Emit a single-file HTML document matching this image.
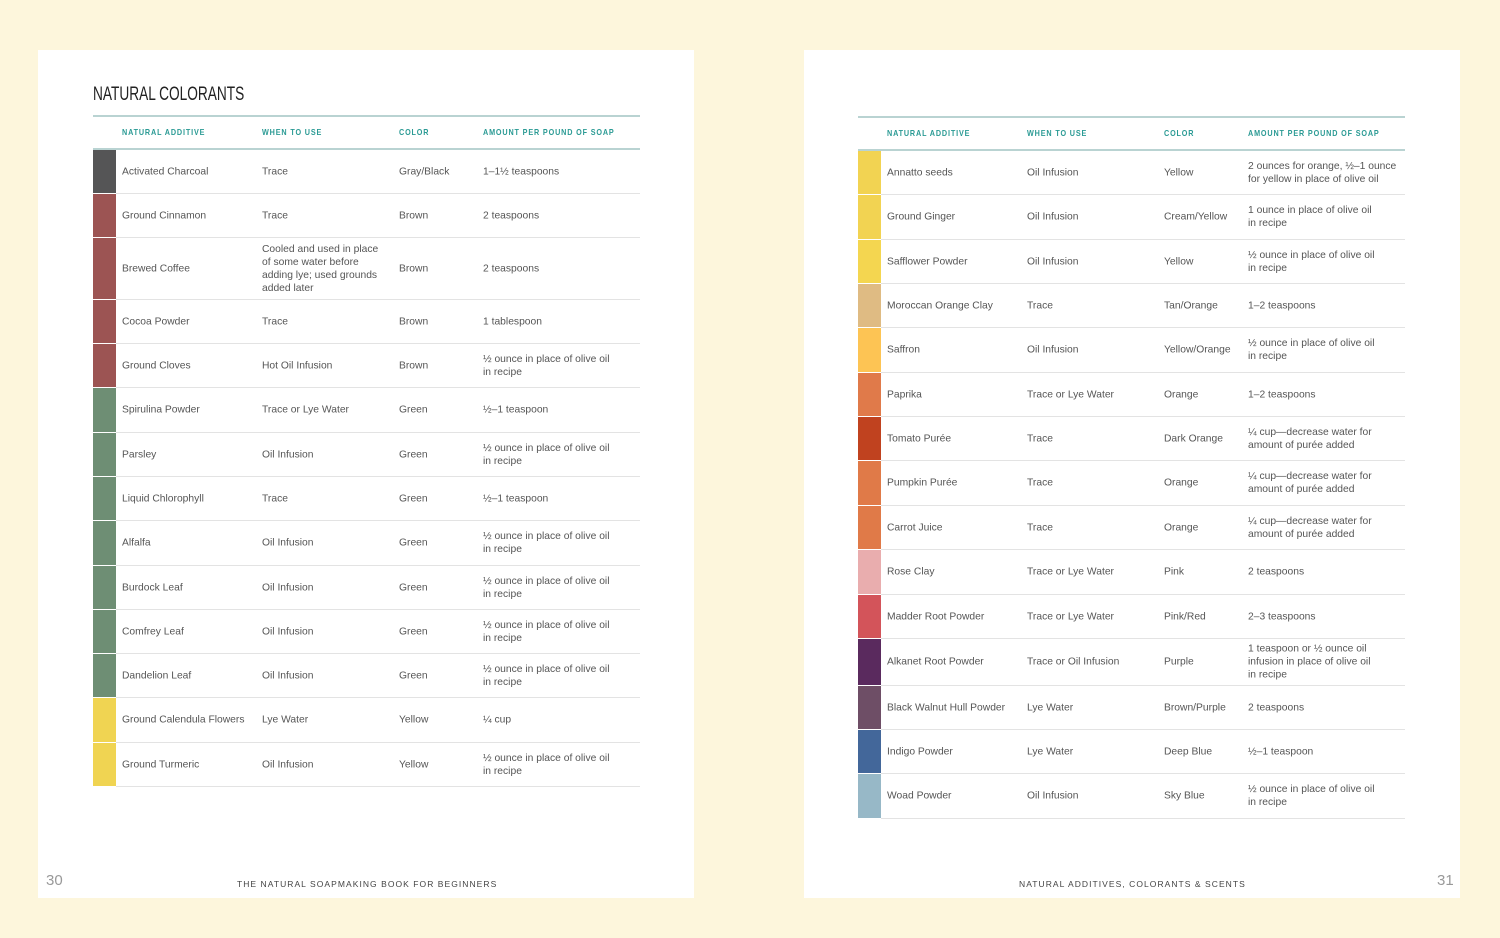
<!DOCTYPE html>
<html><head><meta charset="utf-8"><style>
body{margin:0;width:1500px;height:938px;background:#fdf6dc;position:relative;overflow:hidden;font-family:"Liberation Sans",sans-serif;}
.page{position:absolute;top:50px;width:656px;height:848px;background:#fff;}
.title{position:absolute;left:93px;top:84px;font-size:19px;color:#222;transform:scaleX(0.72);transform-origin:left top;font-family:"Liberation Sans",sans-serif;}
.hr{position:absolute;height:2px;background:#b9d3d2;}
.hd{position:absolute;font-size:8.5px;font-weight:bold;color:#2a9a94;letter-spacing:1px;transform:scaleX(0.85);transform-origin:left top;font-family:"Liberation Sans",sans-serif;}
.sw{position:absolute;width:23px;}
.cell{position:absolute;font-size:10.3px;color:#555;line-height:13px;transform:translateY(-50%);}
.sep{position:absolute;height:1px;background:#e3e3e3;}
.foot{position:absolute;font-size:8.5px;letter-spacing:1.05px;color:#444;}
.pn{position:absolute;font-size:15px;color:#999;}
</style></head><body>
<div class="page" style="left:38px"></div>
<div class="page" style="left:804px"></div>
<div class="title">NATURAL COLORANTS</div>
<div class="pn" style="left:46px;top:872px">30</div>
<div class="foot" style="left:237px;top:879px">THE NATURAL SOAPMAKING BOOK FOR BEGINNERS</div>
<div class="foot" style="left:1019px;top:879px">NATURAL ADDITIVES, COLORANTS &amp; SCENTS</div>
<div class="pn" style="left:1437px;top:872px">31</div>
<div id="root"></div>
<script>
const leftNames=["Activated Charcoal","Ground Cinnamon","Brewed Coffee","Cocoa Powder","Ground Cloves","Spirulina Powder","Parsley","Liquid Chlorophyll","Alfalfa","Burdock Leaf","Comfrey Leaf","Dandelion Leaf","Ground Calendula Flowers","Ground Turmeric"];
const leftWhen=["Trace","Trace","Cooled and used in place<br>of some water before<br>adding lye; used grounds<br>added later","Trace","Hot Oil Infusion","Trace or Lye Water","Oil Infusion","Trace","Oil Infusion","Oil Infusion","Oil Infusion","Oil Infusion","Lye Water","Oil Infusion"];
const leftColor=["Gray/Black","Brown","Brown","Brown","Brown","Green","Green","Green","Green","Green","Green","Green","Yellow","Yellow"];
const OZ="½ ounce in place of olive oil<br>in recipe";
const leftAmt=["1–1½ teaspoons","2 teaspoons","2 teaspoons","1 tablespoon",OZ,"½–1 teaspoon",OZ,"½–1 teaspoon",OZ,OZ,OZ,OZ,"¼ cup",OZ];
const leftSw=["#555556","#9c5453","#9c5453","#9c5453","#9c5453","#6e8e74","#6e8e74","#6e8e74","#6e8e74","#6e8e74","#6e8e74","#6e8e74","#f0d452","#f0d452"];
const leftB=[149,193,237,299,343,387,432,476,520,565,609,653,697,742,786];
const rightNames=["Annatto seeds","Ground Ginger","Safflower Powder","Moroccan Orange Clay","Saffron","Paprika","Tomato Purée","Pumpkin Purée","Carrot Juice","Rose Clay","Madder Root Powder","Alkanet Root Powder","Black Walnut Hull Powder","Indigo Powder","Woad Powder"];
const rightWhen=["Oil Infusion","Oil Infusion","Oil Infusion","Trace","Oil Infusion","Trace or Lye Water","Trace","Trace","Trace","Trace or Lye Water","Trace or Lye Water","Trace or Oil Infusion","Lye Water","Lye Water","Oil Infusion"];
const rightColor=["Yellow","Cream/Yellow","Yellow","Tan/Orange","Yellow/Orange","Orange","Dark Orange","Orange","Orange","Pink","Pink/Red","Purple","Brown/Purple","Deep Blue","Sky Blue"];
const CUP="¼ cup—decrease water for<br>amount of purée added";
const rightAmt=["2 ounces for orange, ½–1 ounce<br>for yellow in place of olive oil","1 ounce in place of olive oil<br>in recipe",OZ,"1–2 teaspoons",OZ,"1–2 teaspoons",CUP,CUP,CUP,"2 teaspoons","2–3 teaspoons","1 teaspoon or ½ ounce oil<br>infusion in place of olive oil<br>in recipe","2 teaspoons","½–1 teaspoon",OZ];
const rightSw=["#f2d352","#f2d352","#f4d650","#dfbb83","#fdc454","#e07a4a","#c0421f","#e07a48","#e07a48","#e9adae","#d3545a","#5a2a5e","#6e4e66","#43679a","#97b8c7"];
const rightB=[150,194,239,283,327,372,416,460,505,549,594,638,685,729,773,818];
const root=document.getElementById('root');
function mk(cls,style,html,name){const d=document.createElement('div');d.className=cls;d.style.cssText=style;if(html)d.innerHTML=html;


root.appendChild(d);return d;}
function table(x0,topY,B,names,when,color,amt,sw,cols,side){
 const W=547;
 mk('hr',`left:${x0}px;top:${topY}px;width:${W}px`,'',side+'-table-top-rule');
 mk('hr',`left:${x0}px;top:${B[0]-1}px;width:${W}px`,'',side+'-header-rule');
 const hds=["NATURAL ADDITIVE","WHEN TO USE","COLOR","AMOUNT PER POUND OF SOAP"];
 hds.forEach((h,i)=>mk('hd',`left:${cols[i]}px;top:${topY+12}px`,h,side+'-header-'+i));
 for(let i=0;i<names.length;i++){
  const t=B[i]+1,b=B[i+1],m=(t+b)/2;
  mk('sw',`left:${x0}px;top:${t}px;height:${b-t}px;background:${sw[i]}`,'',side+'-swatch-'+i);
  mk('cell',`left:${cols[0]}px;top:${m}px`,names[i],side+'-name-'+i);
  mk('cell',`left:${cols[1]}px;top:${m}px`,when[i],side+'-when-'+i);
  mk('cell',`left:${cols[2]}px;top:${m}px`,color[i],side+'-color-'+i);
  mk('cell',`left:${cols[3]}px;top:${m}px`,amt[i],side+'-amount-'+i);
  mk('sep',`left:${x0+23}px;top:${b}px;width:${W-23}px`,'',side+'-row-sep-'+i);
 }
}
table(93,115,leftB,leftNames,leftWhen,leftColor,leftAmt,leftSw,[122,262,399,483],'left');
table(858,116,rightB,rightNames,rightWhen,rightColor,rightAmt,rightSw,[887,1027,1164,1248],'right');
</script>
</body></html>
